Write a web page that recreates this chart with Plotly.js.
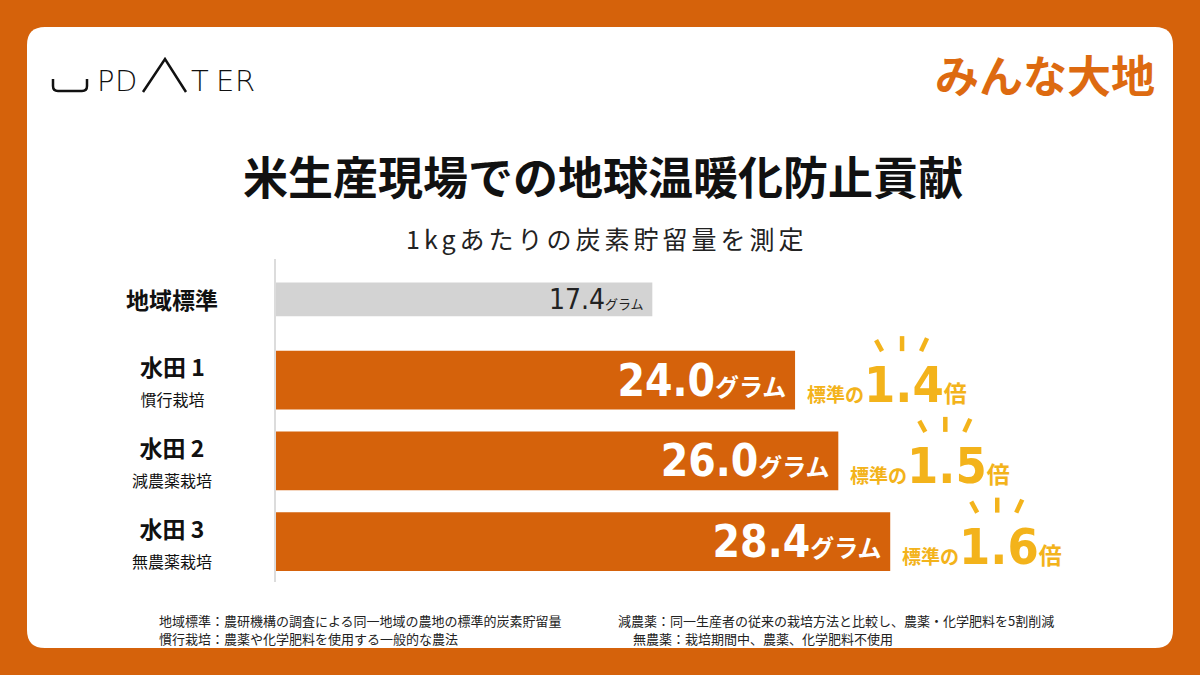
<!DOCTYPE html>
<html>
<head>
<meta charset="utf-8">
<script src="https://cdn.plot.ly/plotly-3.0.1.min.js"></script>
<style>
  html, body { margin: 0; padding: 0; background: #d5620b; }
  #chart { width: 1200px; height: 675px; }
</style>
</head>
<body>
<div id="chart"></div>
<script>
// data
var categories = ['地域標準', '水田 1', '水田 2', '水田 3'];
var subLabels = ['', '慣行栽培', '減農薬栽培', '無農薬栽培'];
var grams = [17.4, 24.0, 26.0, 28.4];
var ratios = [null, 1.4, 1.5, 1.6];
var notesLeft = ['地域標準：農研機構の調査による同一地域の農地の標準的炭素貯留量',
                 '慣行栽培：農薬や化学肥料を使用する一般的な農法'];
var notesRight = ['減農薬：同一生産者の従来の栽培方法と比較し、農薬・化学肥料を5割削減',
                  '無農薬：栽培期間中、農薬、化学肥料不使用'];

var ORANGE = '#d5620b';
var YELLOW = '#f3b31b';
var GRAY = '#d3d3d3';
var JP = '"Noto Sans CJK JP", sans-serif';
var NUM = '"DejaVu Sans Condensed", "Noto Sans CJK JP", sans-serif';

// plot area in pixels
var L = 276, R = 1100, T = 259, B = 582;
function fx(p) { return (p - L) / (R - L); }
function fy(p) { return (B - p) / (B - T); }

var texts = grams.map(function (g, i) {
  if (i === 0) {
    return '<span style="font-size:28px">' + g.toFixed(1) + '</span><span style="font-size:13px">グラム</span>\u00a0';
  }
  return '<b><span style="font-size:44px">' + g.toFixed(1) + '</span><span style="font-size:24px">グラム</span></b>\u00a0';
});

var trace = {
  type: 'bar',
  orientation: 'h',
  y: categories,
  x: grams,
  width: categories.map(function (c, i) { return i === 0 ? 0.42 : 0.73; }),
  marker: { color: categories.map(function (c, i) { return i === 0 ? GRAY : ORANGE; }) },
  text: texts,
  texttemplate: '%{text}',
  textposition: 'inside',
  insidetextanchor: 'end',
  constraintext: 'none',
  textfont: { family: NUM, color: categories.map(function (c, i) { return i === 0 ? '#222' : '#fff'; }), size: 20 },
  hoverinfo: 'skip'
};

var annotations = [];
var shapes = [];

// white card
var cx0 = 27, cx1 = 1173, cy0 = 27, cy1 = 648, r = 18;
shapes.push({
  type: 'path', xref: 'paper', yref: 'paper', layer: 'below',
  fillcolor: '#fff', line: { width: 0 },
  path: 'M' + fx(cx0 + r) + ',' + fy(cy0) +
    ' L' + fx(cx1 - r) + ',' + fy(cy0) +
    ' Q' + fx(cx1) + ',' + fy(cy0) + ' ' + fx(cx1) + ',' + fy(cy0 + r) +
    ' L' + fx(cx1) + ',' + fy(cy1 - r) +
    ' Q' + fx(cx1) + ',' + fy(cy1) + ' ' + fx(cx1 - r) + ',' + fy(cy1) +
    ' L' + fx(cx0 + r) + ',' + fy(cy1) +
    ' Q' + fx(cx0) + ',' + fy(cy1) + ' ' + fx(cx0) + ',' + fy(cy1 - r) +
    ' L' + fx(cx0) + ',' + fy(cy0 + r) +
    ' Q' + fx(cx0) + ',' + fy(cy0) + ' ' + fx(cx0 + r) + ',' + fy(cy0) + ' Z'
});

// UPDATER logo
shapes.push({
  type: 'path', xref: 'paper', yref: 'paper', line: { color: '#111', width: 2.5 },
  path: 'M' + fx(53) + ',' + fy(79) + ' L' + fx(53) + ',' + fy(86) +
    ' Q' + fx(53) + ',' + fy(91) + ' ' + fx(58) + ',' + fy(91) +
    ' L' + fx(82) + ',' + fy(91) +
    ' Q' + fx(87) + ',' + fy(91) + ' ' + fx(87) + ',' + fy(86) +
    ' L' + fx(87) + ',' + fy(79)
});
shapes.push({
  type: 'path', xref: 'paper', yref: 'paper', line: { color: '#111', width: 2.5 },
  path: 'M' + fx(143) + ',' + fy(92) + ' L' + fx(165) + ',' + fy(59) + ' L' + fx(186) + ',' + fy(92)
});
[['P', 95], ['D', 113], ['T', 189], ['E', 214], ['R', 233]].forEach(function (lt) {
  annotations.push({
    xref: 'paper', yref: 'paper', x: fx(lt[1]), y: fy(81), xanchor: 'left', yanchor: 'middle',
    text: lt[0], showarrow: false, font: { family: 'DejaVu Sans', size: 29, color: '#111', weight: 200 }
  });
});

// みんな大地 logo
annotations.push({
  xref: 'paper', yref: 'paper', x: fx(1157), y: fy(74), xanchor: 'right', yanchor: 'middle',
  text: '<b>みんな大地</b>', showarrow: false, font: { family: JP, size: 44, color: '#dd6a10' }
});

// title and subtitle
annotations.push({
  xref: 'paper', yref: 'paper', x: fx(603), y: fy(175), xanchor: 'center', yanchor: 'middle',
  text: '<b>米生産現場での地球温暖化防止貢献</b>', showarrow: false,
  font: { family: JP, size: 45, color: '#111' }
});
annotations.push({
  xref: 'paper', yref: 'paper', x: fx(607), y: fy(238), xanchor: 'center', yanchor: 'middle',
  text: '<span style="letter-spacing:4px">1kgあたりの炭素貯留量を測定</span>', showarrow: false,
  font: { family: JP, size: 25, color: '#222' }
});

// category labels
categories.forEach(function (c, i) {
  var t = '<b>' + c + '</b>';
  if (subLabels[i]) t += '<br><span style="font-size:16px">' + subLabels[i] + '</span>';
  annotations.push({
    xref: 'paper', yref: 'y', x: fx(172), y: c, xanchor: 'center', yanchor: 'middle',
    align: 'center', text: t, showarrow: false,
    font: { family: JP, size: 23, color: '#111' }
  });
});

// "標準の x倍" labels and rays
categories.forEach(function (c, i) {
  if (ratios[i] === null) return;
  annotations.push({
    xref: 'x', yref: 'y', x: grams[i], y: c, xanchor: 'left', yanchor: 'middle',
    xshift: 10, yshift: -5, showarrow: false,
    text: '<b>標準の<span style="font-size:50px;font-family:' + "'DejaVu Sans Condensed'" + '">' +
      ratios[i].toFixed(1) + '</span><span style="font-size:23px">倍</span></b>',
    font: { family: JP, size: 19, color: YELLOW }
  });
  var rays = [[-26, 40, -20, 29], [0, 44, 0, 29], [25, 42, 19, 29]];
  rays.forEach(function (rr) {
    shapes.push({
      type: 'line', xref: 'x', yref: 'y',
      xsizemode: 'pixel', ysizemode: 'pixel', xanchor: grams[i], yanchor: c,
      x0: 107 + rr[0], y0: rr[1], x1: 107 + rr[2], y1: rr[3],
      line: { color: YELLOW, width: 4.5 }
    });
  });
});

// footnotes
notesLeft.forEach(function (n, i) {
  annotations.push({
    xref: 'paper', yref: 'paper', x: fx(157), y: fy(620 + i * 18), xanchor: 'left', yanchor: 'middle',
    text: n, showarrow: false, font: { family: JP, size: 13, color: '#222' }
  });
});
notesRight.forEach(function (n, i) {
  annotations.push({
    xref: 'paper', yref: 'paper', x: fx(i === 0 ? 616 : 631), y: fy(620 + i * 18), xanchor: 'left', yanchor: 'middle',
    text: n, showarrow: false, font: { family: JP, size: 13, color: '#222' }
  });
});

var layout = {
  width: 1200,
  height: 675,
  paper_bgcolor: ORANGE,
  plot_bgcolor: 'rgba(0,0,0,0)',
  margin: { l: L, r: 1200 - R, t: T, b: 675 - B, pad: 0 },
  showlegend: false,
  xaxis: { range: [0, 38.1], visible: false, fixedrange: true },
  yaxis: {
    type: 'category', categoryorder: 'array', categoryarray: categories,
    range: [3.5, -0.5], showticklabels: false, showgrid: false, zeroline: false,
    showline: true, linecolor: '#dcdcdc', linewidth: 2, ticks: ''
  },
  shapes: shapes,
  annotations: annotations,
  font: { family: JP }
};

Plotly.newPlot('chart', [trace], layout, { displayModeBar: false, staticPlot: true });
</script>
</body>
</html>
